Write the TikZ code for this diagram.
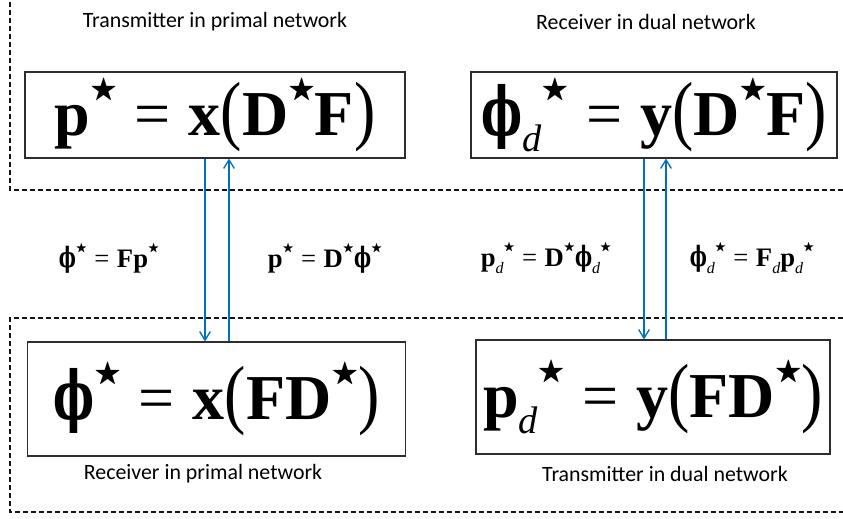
\documentclass[tikz,border=0pt]{standalone}
\usepackage{amssymb}
\usepackage{graphicx}
\usepackage{fontspec}
\setmainfont{Carlito}
\newfontfamily\eqfont{Liberation Serif}
\newfontfamily\phifont{DejaVu Serif}
\usetikzlibrary{arrows.meta}
\definecolor{linkblue} {RGB}{  0,112,192}
\definecolor{boxline}  {RGB}{ 45, 45, 45}
\definecolor{framecol} {RGB}{ 20, 20, 20}
%% small pieces of the equations
\newcommand{\estar}{\raisebox{0.6em}{\scalebox{0.44}{$\bigstar$}}}
\newcommand{\esubd}{\raisebox{-0.25em}{\scalebox{0.6}{\mdseries\itshape d}}}
\newcommand{\eqeq}{\hspace{0.28em}{\mdseries=}\hspace{0.28em}}
\newcommand{\ephi}{\scalebox{0.68}[1.05]{\phifont\bfseries ϕ}}
\newcommand{\lpar}{\scalebox{1}[1.2]{\mdseries(}}
\newcommand{\rpar}{\scalebox{1}[1.2]{\mdseries)}}
\tikzset{
  %% boxes holding the large equations
  eqbox/.style={
    draw=boxline, line width=0.8pt, inner sep=0pt,
    font=\eqfont\bfseries\fontsize{48}{56}\selectfont
  },
  %% small equations between the two rows
  smalleq/.style={font=\eqfont\bfseries\fontsize{20}{24}\selectfont},
  caption/.style={font=\fontsize{16.4}{20}\selectfont},
  frame/.style={
    draw=framecol, line width=1.1pt,
    dash pattern=on 3.6pt off 2.4pt
  },
  link/.style={
    draw=linkblue, line width=1.0pt,
    -{Straight Barb[length=6.5pt,width=8pt]}
  },
}
\begin{document}
\begin{tikzpicture}[x=0.75pt, y=-0.75pt]

  \useasboundingbox (0,0) rectangle (843,518);

  %% ── Dashed regions ──────────────────────────────────────────────────
  \draw[frame] (843,190) -- (10,190) -- (10,0);
  \draw[frame] (843,318) -- (10,318) -- (10,512) -- (843,512);

  %% ── Top row ─────────────────────────────────────────────────────────
  \node[caption] (tpcap) at (215,22) {Transmitter in primal network};
  \node[caption] (rdcap) at (646,22) {Receiver in dual network};

  \node[eqbox, minimum width=285pt, minimum height=64.5pt] (tpbox)
        at (215,115) {p\estar\eqeq x\lpar D\estar F\rpar};
  \node[eqbox, minimum width=274.5pt, minimum height=64.5pt] (rdbox)
        at (654,115) {\ephi\esubd\estar\eqeq y\lpar D\estar F\rpar};

  %% ── Bottom row ──────────────────────────────────────────────────────
  \node[eqbox, minimum width=283pt, minimum height=85.5pt] (rpbox)
        at (216.5,399) {\ephi\estar\eqeq x\lpar FD\estar\rpar};
  \node[eqbox, minimum width=265.5pt, minimum height=85.5pt] (tdbox)
        at (653,397) {p\esubd\estar\eqeq y\lpar FD\estar\rpar};

  \node[caption] (rpcap) at (203,474) {Receiver in primal network};
  \node[caption] (tdcap) at (665,474) {Transmitter in dual network};

  %% ── Links between the rows ──────────────────────────────────────────
  \coordinate (pdn) at (205,0);
  \coordinate (pup) at (229,0);
  \coordinate (ddn) at (644,0);
  \coordinate (dup) at (666,0);

  \draw[link] (tpbox.south -| pdn) -- (rpbox.north -| pdn);
  \draw[link] (rpbox.north -| pup) -- (tpbox.south -| pup);
  \draw[link] (rdbox.south -| ddn) -- (tdbox.north -| ddn);
  \draw[link] (tdbox.north -| dup) -- (rdbox.south -| dup);

  \node[smalleq] (fwdp) at (109,258) {\ephi\estar\eqeq Fp\estar};
  \node[smalleq] (bwdp) at (325,258) {p\estar\eqeq D\estar\ephi\estar};
  \node[smalleq] (fwdd) at (546,258) {p\esubd\estar\eqeq D\estar\ephi\esubd\estar};
  \node[smalleq] (bwdd) at (752,258) {\ephi\esubd\estar\eqeq F\esubd p\esubd\estar};

\end{tikzpicture}
\end{document}
